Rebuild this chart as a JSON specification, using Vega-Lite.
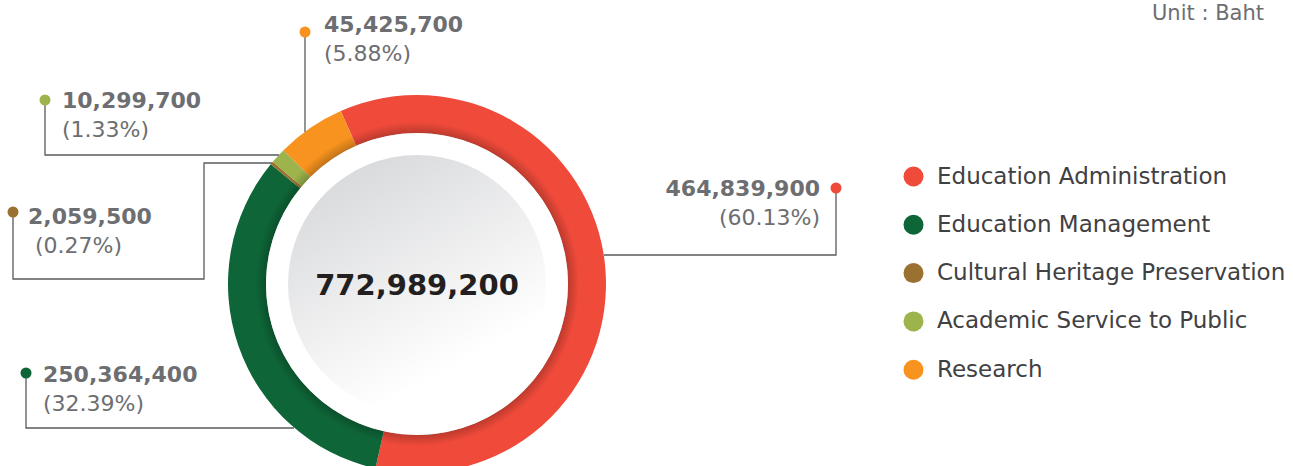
{
  "$schema": "https://vega.github.io/schema/vega-lite/v6.json",
  "width": 1293,
  "height": 466,
  "autosize": "none",
  "padding": 0,
  "background": "#ffffff",
  "config": {"view": {"stroke": null}},
  "datasets": {
    "budget": [
      {"category": "Education Administration", "value": 464839900, "order": 1},
      {"category": "Education Management", "value": 250364400, "order": 2},
      {"category": "Cultural Heritage Preservation", "value": 2059500, "order": 3},
      {"category": "Academic Service to Public", "value": 10299700, "order": 4},
      {"category": "Research", "value": 45425700, "order": 5}
    ],
    "leaders": [
      {"id": "EA", "seq": 1, "x": 419, "y": 96},
      {"id": "EA", "seq": 2, "x": 419, "y": 29},
      {"id": "EA", "seq": 3, "x": 187, "y": 29},
      {"id": "EM", "seq": 1, "x": -391, "y": -89},
      {"id": "EM", "seq": 2, "x": -391, "y": -144},
      {"id": "EM", "seq": 3, "x": -123, "y": -144},
      {"id": "CH", "seq": 1, "x": -404, "y": 72},
      {"id": "CH", "seq": 2, "x": -404, "y": 5},
      {"id": "CH", "seq": 3, "x": -213, "y": 5},
      {"id": "CH", "seq": 4, "x": -213, "y": 121},
      {"id": "CH", "seq": 5, "x": -145, "y": 121},
      {"id": "AS", "seq": 1, "x": -372, "y": 184},
      {"id": "AS", "seq": 2, "x": -372, "y": 129},
      {"id": "AS", "seq": 3, "x": -138, "y": 129},
      {"id": "R", "seq": 1, "x": -112, "y": 252},
      {"id": "R", "seq": 2, "x": -112, "y": 152}
    ],
    "dots": [
      {"category": "Education Administration", "x": 419, "y": 96},
      {"category": "Education Management", "x": -391, "y": -89},
      {"category": "Cultural Heritage Preservation", "x": -404, "y": 72},
      {"category": "Academic Service to Public", "x": -372, "y": 184},
      {"category": "Research", "x": -112, "y": 252}
    ],
    "labels": [
      {"text": "464,839,900", "kind": "amount", "align": "right", "x": 403, "y": 88},
      {"text": "(60.13%)", "kind": "pct", "align": "right", "x": 403, "y": 59},
      {"text": "250,364,400", "kind": "amount", "align": "left", "x": -374, "y": -98},
      {"text": "(32.39%)", "kind": "pct", "align": "left", "x": -374, "y": -127},
      {"text": "2,059,500", "kind": "amount", "align": "left", "x": -389, "y": 60},
      {"text": "(0.27%)", "kind": "pct", "align": "left", "x": -382, "y": 31},
      {"text": "10,299,700", "kind": "amount", "align": "left", "x": -355, "y": 176},
      {"text": "(1.33%)", "kind": "pct", "align": "left", "x": -355, "y": 147},
      {"text": "45,425,700", "kind": "amount", "align": "left", "x": -93, "y": 252},
      {"text": "(5.88%)", "kind": "pct", "align": "left", "x": -93, "y": 223}
    ]
  },
  "layer": [
    {
      "data": {"name": "budget"},
      "mark": {"type": "arc", "radius": 189, "radius2": 151, "stroke": null},
      "encoding": {
        "x": {"datum": 0, "type": "quantitative", "scale": {"domain": [-417, 876], "nice": false, "zero": false}, "axis": null},
        "y": {"datum": 0, "type": "quantitative", "scale": {"domain": [-182, 284], "nice": false, "zero": false}, "axis": null},
        "theta": {"field": "value", "type": "quantitative", "stack": true, "scale": {"range": [-0.415, 5.868]}},
        "order": {"field": "order", "type": "quantitative"},
        "color": {
          "field": "category",
          "type": "nominal",
          "scale": {
            "domain": ["Education Administration", "Education Management", "Cultural Heritage Preservation", "Academic Service to Public", "Research"],
            "range": ["#ef4a3a", "#0e6638", "#9a7130", "#9cb44b", "#f7931e"]
          },
          "legend": {
            "title": null,
            "orient": "none",
            "legendX": 902,
            "legendY": 165,
            "padding": 0,
            "symbolType": "circle",
            "symbolSize": 400,
            "symbolStrokeWidth": 0,
            "symbolOpacity": 1,
            "labelFont": "DejaVu Sans",
            "labelFontSize": 23,
            "labelColor": "#414042",
            "labelOffset": 12,
            "rowPadding": 24.3,
            "labelLimit": 400
          }
        }
      }
    },
    {
      "data": {"values": [{"k": "shadow"}]},
      "mark": {
        "type": "arc", "theta": 0, "theta2": 6.2832, "radius": 162, "radius2": 0,
        "fill": {"gradient": "radial", "x1": 0.5, "y1": 0.5, "r1": 0, "x2": 0.5, "y2": 0.5, "r2": 0.5,
          "stops": [{"offset": 0, "color": "rgba(0,0,0,0)"}, {"offset": 0.93, "color": "rgba(0,0,0,0.22)"}, {"offset": 1, "color": "rgba(0,0,0,0)"}]}
      },
      "encoding": {
        "x": {"datum": 0, "type": "quantitative"},
        "y": {"datum": 0, "type": "quantitative"}
      }
    },
    {
      "data": {"values": [{"k": "white"}]},
      "mark": {"type": "arc", "theta": 0, "theta2": 6.2832, "radius": 151, "radius2": 0, "fill": "#ffffff"},
      "encoding": {
        "x": {"datum": 0, "type": "quantitative"},
        "y": {"datum": 0, "type": "quantitative"}
      }
    },
    {
      "data": {"values": [{"k": "inner"}]},
      "mark": {
        "type": "arc", "theta": 0, "theta2": 6.2832, "radius": 129, "radius2": 0,
        "fill": {"gradient": "linear", "x1": 0.25, "y1": 0.02, "x2": 0.68, "y2": 0.8,
          "stops": [{"offset": 0, "color": "#d8d9db"}, {"offset": 1, "color": "#ffffff"}]}
      },
      "encoding": {
        "x": {"datum": 0, "type": "quantitative"},
        "y": {"datum": 0, "type": "quantitative"}
      }
    },
    {
      "data": {"values": [{"total": "772,989,200"}]},
      "mark": {"type": "text", "font": "DejaVu Sans", "fontWeight": "bold", "fontSize": 29, "color": "#231f20", "align": "center", "baseline": "alphabetic"},
      "encoding": {
        "x": {"datum": 0, "type": "quantitative"},
        "y": {"datum": -11, "type": "quantitative"},
        "text": {"field": "total"}
      }
    },
    {
      "data": {"name": "leaders"},
      "mark": {"type": "line", "color": "#5a5b5d", "strokeWidth": 1.3, "interpolate": "linear"},
      "encoding": {
        "x": {"field": "x", "type": "quantitative"},
        "y": {"field": "y", "type": "quantitative"},
        "detail": {"field": "id"},
        "order": {"field": "seq", "type": "quantitative"}
      }
    },
    {
      "data": {"name": "dots"},
      "mark": {"type": "circle", "size": 121, "opacity": 1},
      "encoding": {
        "x": {"field": "x", "type": "quantitative"},
        "y": {"field": "y", "type": "quantitative"},
        "color": {"field": "category", "type": "nominal", "legend": null}
      }
    },
    {
      "data": {"name": "labels"},
      "transform": [{"filter": "datum.kind == 'amount' && datum.align == 'left'"}],
      "mark": {"type": "text", "font": "DejaVu Sans", "fontWeight": "bold", "fontSize": 22, "color": "#6d6e71", "align": "left", "baseline": "alphabetic"},
      "encoding": {
        "x": {"field": "x", "type": "quantitative"},
        "y": {"field": "y", "type": "quantitative"},
        "text": {"field": "text"}
      }
    },
    {
      "data": {"name": "labels"},
      "transform": [{"filter": "datum.kind == 'amount' && datum.align == 'right'"}],
      "mark": {"type": "text", "font": "DejaVu Sans", "fontWeight": "bold", "fontSize": 22, "color": "#6d6e71", "align": "right", "baseline": "alphabetic"},
      "encoding": {
        "x": {"field": "x", "type": "quantitative"},
        "y": {"field": "y", "type": "quantitative"},
        "text": {"field": "text"}
      }
    },
    {
      "data": {"name": "labels"},
      "transform": [{"filter": "datum.kind == 'pct' && datum.align == 'left'"}],
      "mark": {"type": "text", "font": "DejaVu Sans", "fontSize": 22, "color": "#6d6e71", "align": "left", "baseline": "alphabetic"},
      "encoding": {
        "x": {"field": "x", "type": "quantitative"},
        "y": {"field": "y", "type": "quantitative"},
        "text": {"field": "text"}
      }
    },
    {
      "data": {"name": "labels"},
      "transform": [{"filter": "datum.kind == 'pct' && datum.align == 'right'"}],
      "mark": {"type": "text", "font": "DejaVu Sans", "fontSize": 22, "color": "#6d6e71", "align": "right", "baseline": "alphabetic"},
      "encoding": {
        "x": {"field": "x", "type": "quantitative"},
        "y": {"field": "y", "type": "quantitative"},
        "text": {"field": "text"}
      }
    },
    {
      "data": {"values": [{"text": "Unit : Baht", "x": 847, "y": 264}]},
      "mark": {"type": "text", "font": "DejaVu Sans", "fontSize": 21, "color": "#6d6e71", "align": "right", "baseline": "alphabetic"},
      "encoding": {
        "x": {"field": "x", "type": "quantitative"},
        "y": {"field": "y", "type": "quantitative"},
        "text": {"field": "text"}
      }
    }
  ]
}
